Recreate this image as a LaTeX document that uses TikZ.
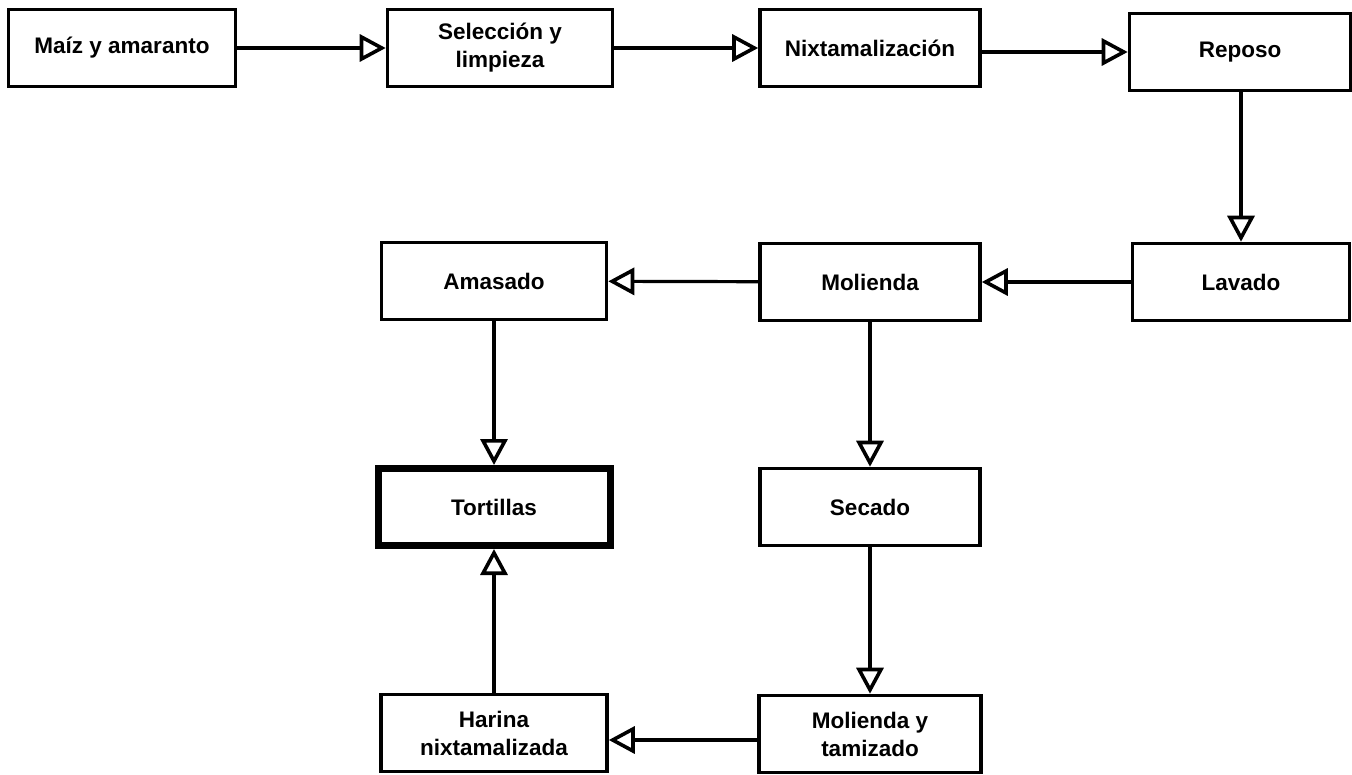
\documentclass[tikz,border=0pt]{standalone}
\usepackage{fontspec}
\setmainfont{Liberation Sans}
\usetikzlibrary{arrows.meta}
\begin{document}
\begin{tikzpicture}[x=1pt,y=-1pt,
  stepbox/.style={draw=black, line width=3.6pt, fill=white, minimum width=#1, minimum height=77pt,
    inner sep=0pt, align=center, font=\fontsize{22.5}{28}\selectfont\bfseries},
  stepbox/.default=222pt,
  endbox/.style={stepbox=232pt, line width=7pt},
  flow/.style={line width=3.2pt, -{Triangle[open, length=26pt, width=27pt, line width=3.6pt]}}
]
\useasboundingbox (0,0) rectangle (1352,774);
\node[stepbox=227pt] (maiz) at (122,48) {Maíz y amaranto};
\node[stepbox=225pt] (sel) at (500,48) {Selección y\\limpieza};
\node[stepbox=220pt] (nix) at (870,48) {Nixtamalización};
\node[stepbox=221pt] (rep) at (1240,52) {Reposo};
\node[stepbox=217pt] (lav) at (1241,282) {Lavado};
\node[stepbox=220pt] (mol) at (870,282) {Molienda};
\node[stepbox=225pt] (ama) at (494,281) {Amasado};
\node[endbox] (tor) at (494,507) {Tortillas};
\node[stepbox=220pt] (sec) at (870,507) {Secado};
\node[stepbox=226pt] (har) at (494,733) {Harina\\nixtamalizada};
\node[stepbox=222pt] (mt) at (870,734) {Molienda y\\tamizado};

\draw[flow] (maiz) -- (sel);
\draw[flow] (sel) -- (nix);
\draw[flow] (nix.east |- rep.west) -- (rep.west);
\draw[flow] (rep.south -| lav.north) -- (lav.north);
\draw[flow] (lav.west |- mol) -- (mol.east);
\draw[flow] (mol) -- (ama);
\draw[flow] (ama) -- (tor);
\draw[flow] (mol) -- (sec);
\draw[flow] (sec) -- (mt);
\draw[flow] (mt.west |- 0,740) -- (har.east |- 0,740);
\draw[flow] (har) -- (tor);
\end{tikzpicture}
\end{document}
